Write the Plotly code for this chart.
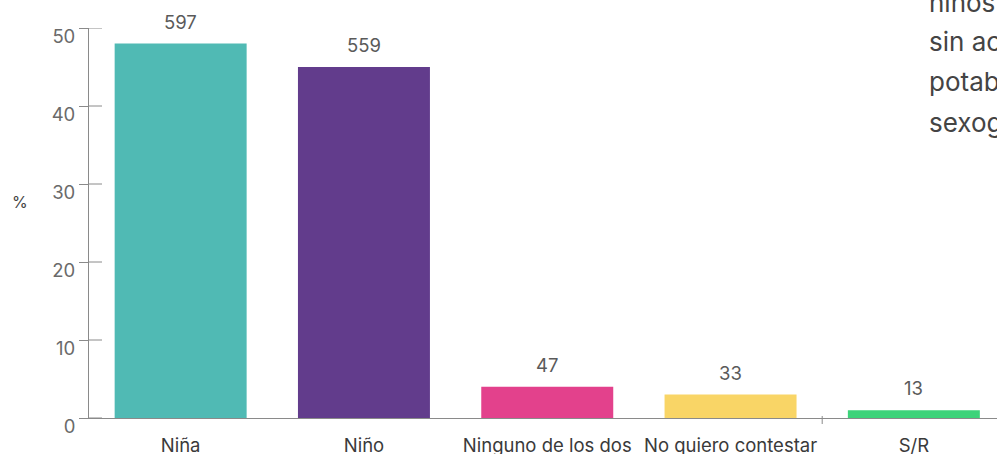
import plotly.graph_objects as go

categories = ["Niña", "Niño", "Ninguno de los dos", "No quiero contestar", "S/R"]
percent_values = [48, 45, 4, 3, 1]
count_labels = ["597", "559", "47", "33", "13"]
bar_colors = ["#50bab4", "#623c8c", "#e3418c", "#f9d566", "#3dd37a"]
y_ticks = [0, 10, 20, 30, 40, 50]
side_text_lines = ["niños", "sin acceso", "potable", "sexogenérica"]

FONT = "Inter"
AXIS_GRAY = "#8a8a8a"
PLOT_H = 390
PLOT_W = 908

fig = go.Figure()
fig.add_trace(go.Bar(
    x=categories, y=percent_values,
    marker=dict(color=bar_colors, line=dict(width=0)),
    hoverinfo="skip",
))

for c, v, t in zip(categories, percent_values, count_labels):
    fig.add_annotation(x=c, y=v, text=t, showarrow=False, yanchor="bottom",
                       yshift=9, font=dict(family=FONT, size=18.5, color="#5a5a5a"))

# inner half of the cross-shaped y ticks
for tv in y_ticks:
    fig.add_shape(type="line", xref="paper", yref="y", x0=0, x1=13/PLOT_W,
                  y0=tv, y1=tv, line=dict(color=AXIS_GRAY, width=1))

# y axis title
fig.add_annotation(xref="paper", yref="paper", x=-69/PLOT_W, y=(390-174)/PLOT_H,
                   text="%", showarrow=False, xanchor="center", yanchor="middle",
                   font=dict(family=FONT, size=16, color="#444444"))

# clipped paragraph text at right
for i, line in enumerate(side_text_lines):
    fig.add_annotation(xref="paper", yref="paper", x=(927-89)/PLOT_W,
                       y=1 + (28 - 2 - 40*i)/PLOT_H,
                       text=line, showarrow=False,
                       xanchor="left", yanchor="middle", align="left",
                       font=dict(family=FONT, size=26, color="#444444"))

# small tick between categories on x axis
fig.add_shape(type="line", xref="x", yref="paper", x0=3.5, x1=3.5,
              y0=-6/PLOT_H, y1=2/PLOT_H, line=dict(color=AXIS_GRAY, width=1))

fig.update_layout(
    width=997, height=454,
    margin=dict(l=89, r=0, t=28, b=36, autoexpand=False),
    paper_bgcolor="white", plot_bgcolor="white",
    bargap=0.28, showlegend=False,
    font=dict(family=FONT),
    xaxis=dict(
        range=[-0.5, -0.5 + PLOT_W/183.3], automargin=False,
        showline=True, linecolor=AXIS_GRAY, linewidth=1,
        showgrid=False, ticks="", zeroline=False,
        tickfont=dict(family=FONT, size=18.5, color="#3a3a3a"),
        ticklabelstandoff=11,
    ),
    yaxis=dict(
        range=[0, 50], tickvals=y_ticks, automargin=False,
        showline=True, linecolor=AXIS_GRAY, linewidth=1,
        showgrid=False, zeroline=False,
        ticks="outside", ticklen=9, tickcolor=AXIS_GRAY,
        tickfont=dict(family=FONT, size=18.5, color="#6a6a6a"),
        ticklabelshift=9, ticklabelstandoff=0,
    ),
)

fig.write_html(
    "out.html",
    config={"displayModeBar": False},
    post_script="document.body.style.margin='0px';document.body.style.overflow='hidden';",
)
